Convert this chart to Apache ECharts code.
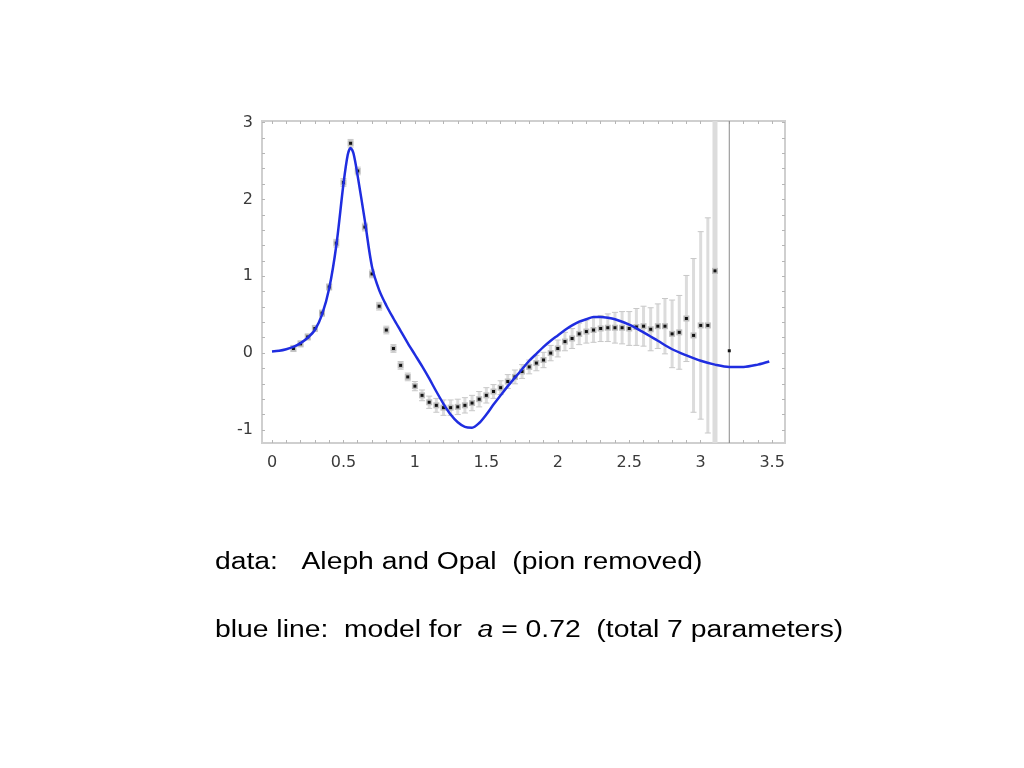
<!DOCTYPE html>
<html>
<head>
<meta charset="utf-8">
<script src="https://cdn.jsdelivr.net/npm/echarts@6/dist/echarts.min.js"></script>
<style>html,body{margin:0;padding:0;background:#fff;}#c{width:1024px;height:768px;}</style>
</head>
<body>
<div id="c"></div>
<script>
// measured data points (x, y, error)
const dataX = [0.15,0.20,0.25,0.30,0.35,0.40,0.45,0.50,0.55,0.60,0.65,0.70,0.75,0.80,0.85,0.90,0.95,1.00,1.05,1.10,1.15,1.20,1.25,1.30,1.35,1.40,1.45,1.50,1.55,1.60,1.65,1.70,1.75,1.80,1.85,1.90,1.95,2.00,2.05,2.10,2.15,2.20,2.25,2.30,2.35,2.40,2.45,2.50,2.55,2.60,2.65,2.70,2.75,2.80,2.85,2.90,2.95,3.00,3.05,3.10,3.20];
const dataY = [0.06,0.12,0.21,0.32,0.52,0.86,1.43,2.22,2.73,2.37,1.64,1.03,0.61,0.30,0.06,-0.16,-0.31,-0.43,-0.55,-0.64,-0.68,-0.71,-0.71,-0.70,-0.68,-0.65,-0.60,-0.55,-0.50,-0.45,-0.37,-0.31,-0.24,-0.18,-0.13,-0.09,0.00,0.06,0.15,0.19,0.25,0.28,0.30,0.32,0.33,0.33,0.33,0.32,0.34,0.35,0.31,0.35,0.35,0.25,0.27,0.45,0.23,0.36,0.36,1.07,0.03];
const dataErr = [0.04,0.04,0.04,0.04,0.04,0.04,0.05,0.05,0.05,0.05,0.05,0.05,0.05,0.05,0.05,0.05,0.05,0.06,0.07,0.08,0.09,0.1,0.1,0.1,0.1,0.1,0.1,0.1,0.09,0.09,0.09,0.09,0.09,0.09,0.1,0.1,0.1,0.11,0.12,0.13,0.14,0.15,0.16,0.17,0.18,0.2,0.21,0.22,0.24,0.26,0.28,0.29,0.36,0.44,0.48,0.56,1.0,1.22,1.4,3.5,5.0];
// model curve (blue line)
const modelX = [0,0.05,0.1,0.15,0.2,0.25,0.3,0.35,0.4,0.45,0.5,0.53,0.55,0.57,0.6,0.65,0.7,0.75,0.8,0.85,0.9,0.95,1.0,1.05,1.1,1.15,1.2,1.25,1.3,1.35,1.4,1.45,1.5,1.55,1.6,1.65,1.7,1.75,1.8,1.85,1.9,1.95,2.0,2.05,2.1,2.15,2.2,2.25,2.3,2.35,2.4,2.5,2.6,2.7,2.8,2.9,3.0,3.1,3.2,3.3,3.4,3.48];
const modelY = [0.02,0.03,0.05,0.08,0.13,0.2,0.3,0.5,0.84,1.4,2.2,2.58,2.67,2.6,2.3,1.72,1.12,0.82,0.62,0.45,0.29,0.13,-0.02,-0.17,-0.33,-0.5,-0.66,-0.8,-0.9,-0.96,-0.97,-0.91,-0.8,-0.67,-0.55,-0.43,-0.32,-0.21,-0.1,-0.01,0.08,0.16,0.23,0.3,0.36,0.41,0.44,0.47,0.47,0.46,0.44,0.37,0.27,0.16,0.05,-0.03,-0.1,-0.15,-0.18,-0.18,-0.15,-0.11];
const xTickLabels = [0,0.5,1,1.5,2,2.5,3,3.5];
const yTickLabels = [-1,0,1,2,3];
const xMinorTicks = [0,0.1,0.2,0.3,0.4,0.5,0.6,0.7,0.8,0.9,1,1.1,1.2,1.3,1.4,1.5,1.6,1.7,1.8,1.9,2,2.1,2.2,2.3,2.4,2.5,2.6,2.7,2.8,2.9,3,3.1,3.2,3.3,3.4,3.5];
const yMinorTicks = [-1,-0.8,-0.6,-0.4,-0.2,0,0.2,0.4,0.6,0.8,1,1.2,1.4,1.6,1.8,2,2.2,2.4,2.6,2.8,3];

const points = dataX.map((x,i)=>[x, dataY[i], dataErr[i]]);
const model = modelX.map((x,i)=>[x, modelY[i]]);

const chart = echarts.init(document.getElementById('c'));
const labelFont = {fontFamily:'DejaVu Sans', fontSize:16, color:'#3a3a3a'};
const frameColor = '#cfcfcf';
const tickStyle = {show:true, inside:true, length:3, lineStyle:{color:'#b5b5b5'}};
chart.setOption({
  animation:false,
  grid:{left:262, right:239, top:121, bottom:325, show:true, borderColor:frameColor, borderWidth:2, backgroundColor:'transparent'},
  xAxis:[{
    type:'value', min:-0.07, max:3.59,
    axisLine:{show:false, onZero:false},
    splitLine:{show:false},
    axisTick:Object.assign({customValues:xMinorTicks}, tickStyle),
    axisLabel:Object.assign({margin:12, customValues:xTickLabels, formatter:v=>String(v)}, labelFont)
  },{
    type:'value', min:-0.07, max:3.59, position:'top',
    axisLine:{show:false, onZero:false}, splitLine:{show:false},
    axisTick:Object.assign({customValues:xMinorTicks}, tickStyle),
    axisLabel:{show:false}
  }],
  yAxis:[{
    type:'value', min:-1.17, max:3.02,
    axisLine:{show:false, onZero:false}, splitLine:{show:false},
    axisTick:Object.assign({customValues:yMinorTicks}, tickStyle),
    axisLabel:Object.assign({margin:9, customValues:yTickLabels, formatter:v=>String(v)}, labelFont)
  },{
    type:'value', min:-1.17, max:3.02, position:'right',
    axisLine:{show:false, onZero:false}, splitLine:{show:false},
    axisTick:Object.assign({customValues:yMinorTicks}, tickStyle),
    axisLabel:{show:false}
  }],
  series:[
    {
      type:'custom',
      clip:true,
      data:points,
      renderItem:function(params, api){
        const x = api.value(0), y = api.value(1), e = api.value(2);
        const c = api.coord([x,y]);
        const top = api.coord([x,y+e]);
        const bot = api.coord([x,y-e]);
        const huge = e > 4;
        const children = [];
        if (huge) {
          children.push({type:'line', shape:{x1:c[0],y1:top[1],x2:c[0],y2:bot[1]}, style:{stroke:'#8a8a8a', lineWidth:1}});
        } else {
          const w = e > 3 ? 5 : 3;
          children.push({type:'rect', shape:{x:c[0]-w/2, y:top[1], width:w, height:bot[1]-top[1]}, style:{fill:'#dcdcdc'}});
          children.push({type:'line', shape:{x1:c[0]-3,y1:top[1],x2:c[0]+3,y2:top[1]}, style:{stroke:'#c8c8c8', lineWidth:1}});
          children.push({type:'line', shape:{x1:c[0]-3,y1:bot[1],x2:c[0]+3,y2:bot[1]}, style:{stroke:'#c8c8c8', lineWidth:1}});
          children.push({type:'rect', shape:{x:c[0]-3, y:c[1]-3, width:6, height:6}, style:{fill:'#bdbdbd'}});
        }
        children.push({type:'rect', shape:{x:c[0]-1.5, y:c[1]-1.5, width:3, height:3}, style:{fill:'#111'}});
        return {type:'group', children:children};
      },
      z:2
    },
    {
      type:'line',
      data:model,
      smooth:0.3,
      showSymbol:false,
      symbol:'none',
      clip:true,
      lineStyle:{color:'#1f2de0', width:2.5},
      z:3
    }
  ],
  graphic:[
    {type:'text', left:215, top:551, scaleX:1.23, originX:0, originY:0,
     style:{text:'data:   Aleph and Opal  (pion removed)', font:'23px "Liberation Sans", Arial, sans-serif', fill:'#000'}},
    {type:'text', left:215, top:619, scaleX:1.23, originX:0, originY:0,
     style:{
      text:'blue line:  model for  {i|a} = 0.72  (total 7 parameters)',
      font:'23px "Liberation Sans", Arial, sans-serif', fill:'#000',
      rich:{i:{fontStyle:'italic', fontFamily:'"Liberation Sans", Arial, sans-serif', fontSize:23, fill:'#000'}}
    }}
  ]
});
</script>
</body>
</html>
